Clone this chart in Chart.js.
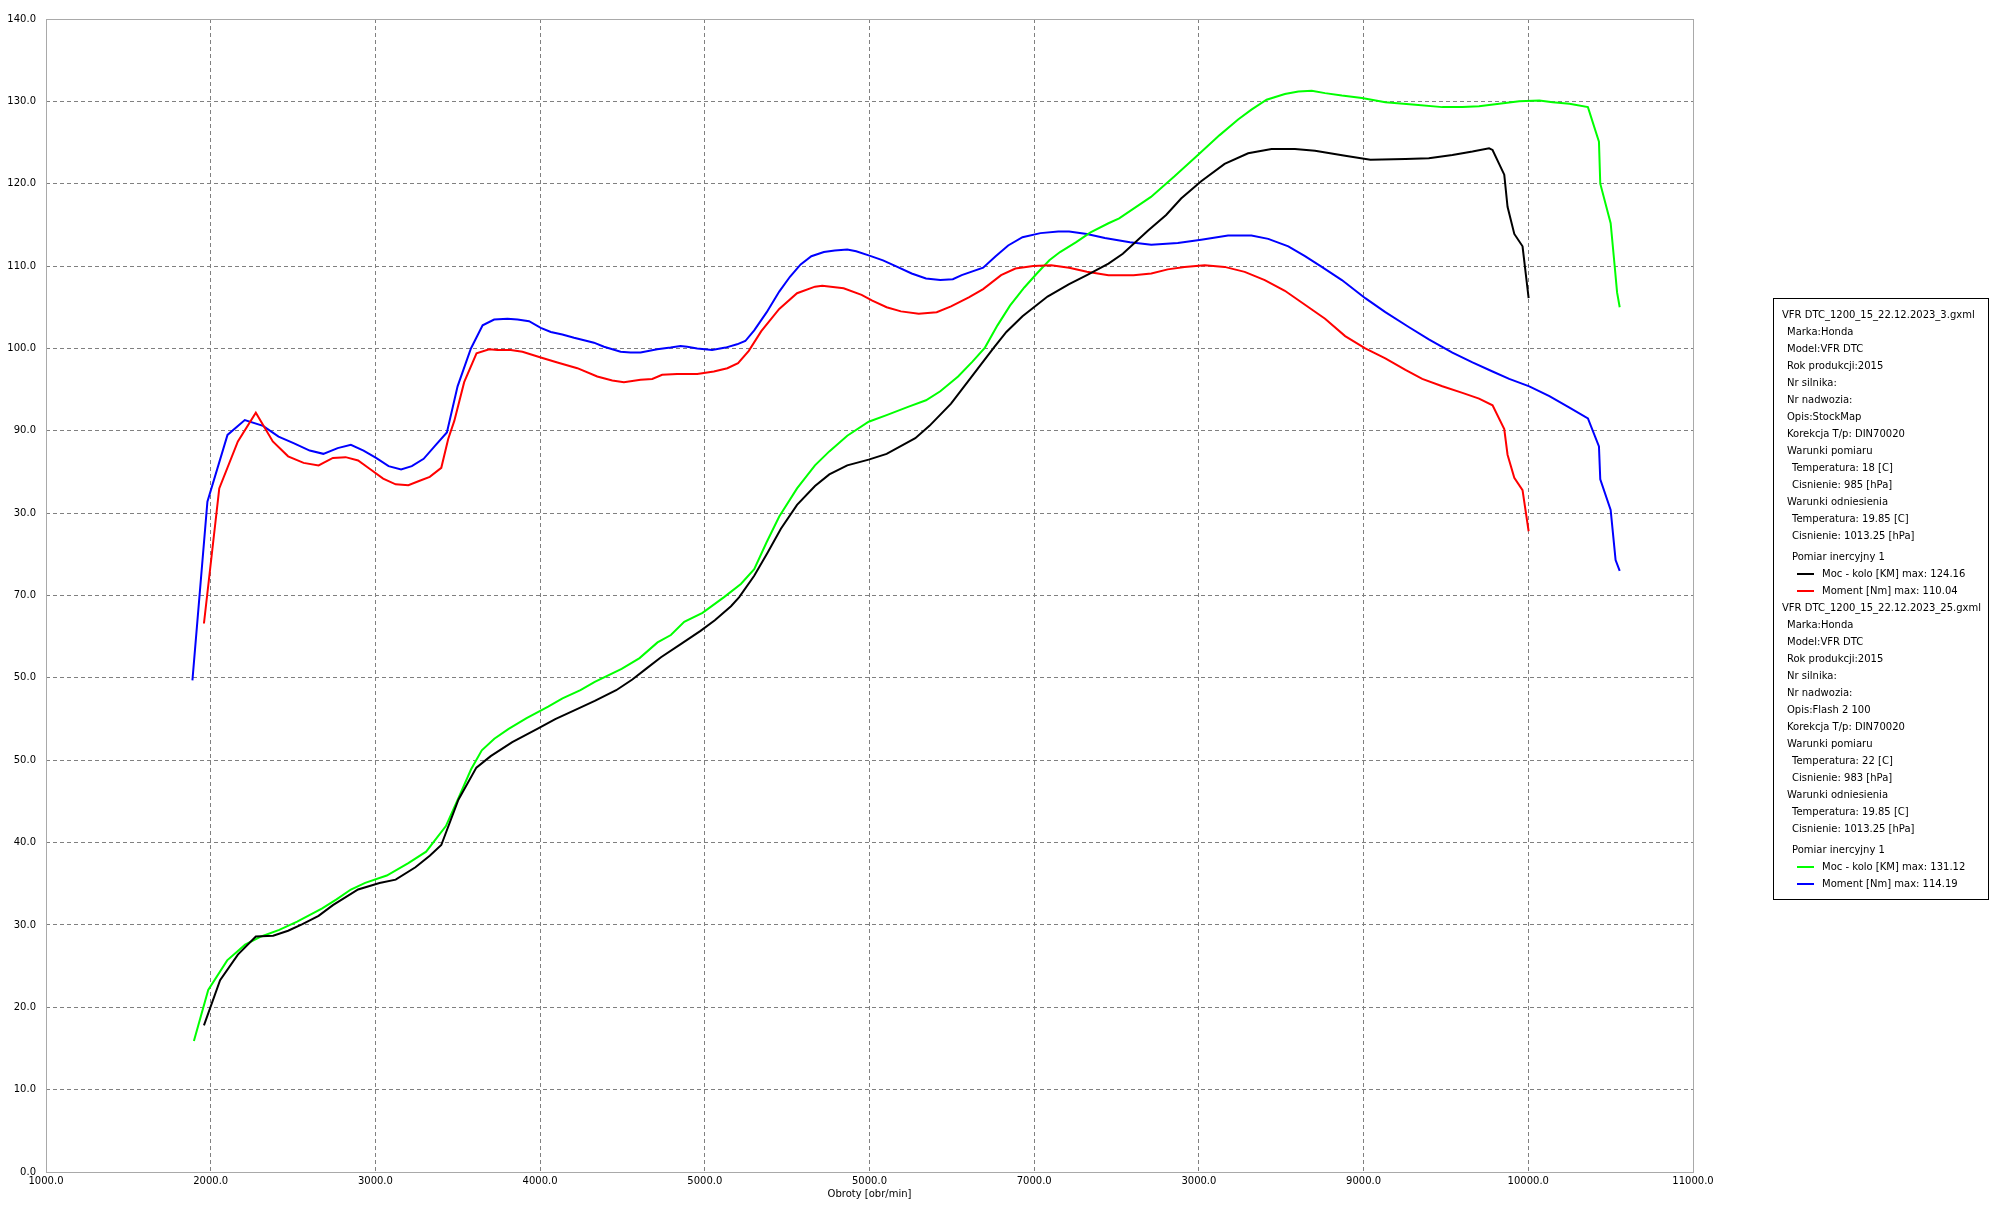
<!DOCTYPE html>
<html>
<head>
<meta charset="utf-8">
<script src="https://cdn.jsdelivr.net/npm/chart.js@4.4.0/dist/chart.umd.min.js"></script>
<style>
html,body{margin:0;padding:0;background:#fff;overflow:hidden}
canvas{display:block}
</style>
</head>
<body>
<canvas id="c" width="1997" height="1212" style="width:1997px;height:1212px"></canvas>
<script>
// ---- Data ----
const blackRpm = [1959,2057,2165,2274,2379,2470,2557,2655,2742,2895,3025,3123,3243,3330,3400,3504,3613,3700,3831,3983,4092,4201,4332,4462,4560,4637,4734,4854,4974,5061,5159,5209,5300,5381,5462,5560,5669,5756,5865,5995,6104,6278,6364,6495,6625,6755,6831,6929,7081,7212,7320,7451,7538,7690,7801,7892,8014,8156,8299,8441,8583,8705,8888,9041,9254,9396,9539,9661,9762,9783,9854,9874,9915,9965,10002];
const blackKM  = [17.8,23.3,26.4,28.6,28.7,29.3,30.1,31.1,32.4,34.3,35.1,35.5,37.0,38.4,39.7,45.2,49.1,50.5,52.2,53.8,55.0,56.0,57.2,58.5,59.8,61.0,62.5,64.1,65.7,67.0,68.7,69.8,72.4,75.2,78.1,81.0,83.3,84.7,85.8,86.5,87.2,89.1,90.6,93.3,96.7,100.1,102.0,103.9,106.3,107.8,108.9,110.3,111.5,114.3,116.2,118.2,120.3,122.4,123.7,124.2,124.2,124.0,123.4,122.9,123.0,123.1,123.5,123.9,124.3,124.1,121.1,117.2,113.9,112.4,106.1];

const redRpm = [1959,2052,2165,2274,2377,2470,2564,2655,2742,2819,2895,2971,3047,3123,3200,3265,3330,3400,3442,3479,3539,3614,3691,3741,3822,3893,4004,4105,4226,4347,4438,4509,4610,4681,4741,4832,4954,5055,5137,5202,5267,5343,5452,5560,5669,5713,5843,5952,6017,6104,6191,6299,6408,6495,6603,6690,6799,6886,6994,7103,7212,7320,7451,7603,7711,7811,7913,8035,8156,8278,8400,8522,8644,8766,8888,9010,9132,9254,9356,9478,9600,9701,9783,9854,9874,9915,9965,10002];
const redNm  = [66.6,83.0,88.7,92.2,88.7,86.9,86.1,85.8,86.7,86.8,86.4,85.3,84.2,83.5,83.4,83.9,84.4,85.5,89.0,91.2,95.9,99.4,99.9,99.8,99.8,99.6,98.9,98.3,97.6,96.6,96.1,95.9,96.2,96.3,96.8,96.9,96.9,97.2,97.6,98.2,99.7,102.1,104.8,106.7,107.5,107.6,107.3,106.5,105.8,105.0,104.5,104.2,104.4,105.1,106.2,107.2,108.9,109.7,110.0,110.1,109.8,109.3,108.9,108.9,109.1,109.6,109.9,110.1,109.9,109.3,108.3,107.0,105.3,103.6,101.5,100.0,98.8,97.4,96.3,95.4,94.6,93.9,93.1,90.2,87.1,84.3,82.8,77.8];

const greenRpm = [1898,1985,2100,2209,2307,2416,2525,2677,2764,2851,2938,3069,3200,3308,3428,3504,3581,3646,3722,3809,3918,4049,4136,4245,4332,4495,4604,4713,4794,4875,4986,5117,5219,5300,5376,5452,5560,5669,5756,5865,5995,6104,6234,6343,6430,6538,6625,6701,6777,6853,6940,7016,7092,7157,7255,7342,7451,7516,7709,7852,7994,8126,8238,8319,8411,8522,8604,8685,8766,8868,8990,9132,9315,9478,9600,9701,9823,9945,10067,10148,10250,10362,10429,10437,10500,10524,10539,10555];
const greenKM  = [15.9,22.1,25.7,27.6,28.6,29.4,30.4,32.0,33.1,34.3,35.1,36.0,37.5,38.9,42.0,45.4,48.9,51.2,52.6,53.8,55.1,56.5,57.5,58.5,59.5,61.1,62.4,64.3,65.2,66.8,67.9,69.8,71.4,73.2,76.5,79.6,83.0,85.8,87.5,89.4,91.1,91.9,92.9,93.7,94.8,96.6,98.4,100.1,102.8,105.2,107.4,109.1,110.7,111.7,112.9,114.1,115.2,115.8,118.4,120.9,123.5,125.9,127.8,129.0,130.2,130.9,131.2,131.3,131.0,130.7,130.4,129.9,129.6,129.3,129.3,129.4,129.7,130.0,130.1,129.9,129.7,129.3,125.1,120.0,115.2,110.1,106.8,105.0];

const blueRpm = [1889,1980,2102,2207,2318,2412,2503,2601,2684,2771,2851,2928,3004,3080,3156,3221,3293,3363,3434,3499,3580,3651,3721,3802,3863,3933,4004,4065,4135,4206,4267,4327,4388,4489,4549,4610,4711,4792,4853,4893,4954,5044,5126,5196,5246,5300,5376,5452,5517,5582,5647,5723,5789,5865,5919,5995,6082,6169,6256,6343,6430,6506,6560,6690,6766,6842,6929,7038,7146,7212,7320,7429,7581,7711,7872,8014,8177,8319,8421,8543,8644,8746,8868,9010,9132,9274,9396,9539,9661,9783,9884,10006,10128,10250,10362,10429,10437,10500,10530,10555];
const blueNm  = [59.7,81.4,89.5,91.3,90.6,89.3,88.5,87.6,87.2,87.9,88.3,87.6,86.7,85.7,85.3,85.7,86.6,88.2,89.8,95.4,100.0,102.8,103.5,103.6,103.5,103.3,102.5,102.0,101.7,101.3,101.0,100.7,100.2,99.6,99.5,99.5,99.9,100.1,100.3,100.2,100.0,99.8,100.1,100.5,100.9,102.2,104.4,106.9,108.7,110.2,111.2,111.7,111.9,112.0,111.8,111.3,110.7,109.9,109.1,108.5,108.3,108.4,108.9,109.8,111.2,112.5,113.5,114.0,114.2,114.2,113.9,113.4,112.9,112.6,112.8,113.2,113.7,113.7,113.3,112.4,111.2,109.9,108.3,106.1,104.4,102.6,101.1,99.5,98.3,97.2,96.3,95.4,94.2,92.8,91.5,88.1,84.1,80.4,74.3,73.0];

// tick labels exactly as printed on the reference
const yTickLabels = ['0.0','10.0','20.0','30.0','40.0','50.0','50.0','70.0','30.0','90.0','100.0','110.0','120.0','130.0','140.0']; // 0..140 step 10
const xTickLabels = ['1000.0','2000.0','3000.0','4000.0','5000.0','5000.0','7000.0','3000.0','9000.0','10000.0','11000.0']; // 1000..11000 step 1000
const xAxisTitle = 'Obroty [obr/min]';

const legendBlock1 = [
  [0,'VFR DTC_1200_15_22.12.2023_3.gxml'],[1,'Marka:Honda'],[1,'Model:VFR DTC'],[1,'Rok produkcji:2015'],
  [1,'Nr silnika:'],[1,'Nr nadwozia:'],[1,'Opis:StockMap'],[1,'Korekcja T/p: DIN70020'],[1,'Warunki pomiaru'],
  [2,'Temperatura: 18 [C]'],[2,'Cisnienie: 985 [hPa]'],[1,'Warunki odniesienia'],[2,'Temperatura: 19.85 [C]'],[2,'Cisnienie: 1013.25 [hPa]']
];
const legendSeries1 = [['#000000','Moc - kolo [KM] max: 124.16'],['#ff0000','Moment [Nm] max: 110.04']];
const legendBlock2 = [
  [0,'VFR DTC_1200_15_22.12.2023_25.gxml'],[1,'Marka:Honda'],[1,'Model:VFR DTC'],[1,'Rok produkcji:2015'],
  [1,'Nr silnika:'],[1,'Nr nadwozia:'],[1,'Opis:Flash 2 100'],[1,'Korekcja T/p: DIN70020'],[1,'Warunki pomiaru'],
  [2,'Temperatura: 22 [C]'],[2,'Cisnienie: 983 [hPa]'],[1,'Warunki odniesienia'],[2,'Temperatura: 19.85 [C]'],[2,'Cisnienie: 1013.25 [hPa]']
];
const legendSeries2 = [['#00ff00','Moc - kolo [KM] max: 131.12'],['#0000ff','Moment [Nm] max: 114.19']];
const legendTitle = 'Pomiar inercyjny 1';

// ---- Rendering ----
const FONT = 'DejaVu Sans';
function pts(xs, ys) { return xs.map((x, i) => ({ x: x, y: ys[i] })); }

const framePlugin = {
  id: 'frame',
  beforeDatasetsDraw(chart) {
    const a = chart.chartArea, c = chart.ctx;
    c.save();
    c.setLineDash([]);
    c.strokeStyle = '#a9a9a9';
    c.lineWidth = 1;
    c.strokeRect(Math.round(a.left) + 0.5, Math.round(a.top) + 0.5, Math.round(a.right - a.left), Math.round(a.bottom - a.top));
    c.restore();
  }
};

const legendPlugin = {
  id: 'infoBox',
  afterDraw(chart) {
    const c = chart.ctx;
    c.save();
    c.setLineDash([]);
    c.strokeStyle = '#000';
    c.lineWidth = 1;
    c.strokeRect(1773.5, 298.5, 215, 601);
    c.fillStyle = '#000';
    c.font = '10px "' + FONT + '"';
    c.textBaseline = 'middle';
    c.textAlign = 'left';
    const indent = [1782, 1787, 1792];
    const drawBlock = (lines, series, y0) => {
      let y = y0;
      lines.forEach(l => { c.fillText(l[1], indent[l[0]], y); y += 17; });
      y += 3.7;
      c.fillText(legendTitle, indent[2], y);
      y += 17;
      series.forEach(s => {
        c.strokeStyle = s[0];
        c.lineWidth = 2;
        c.beginPath(); c.moveTo(1797, Math.round(y)); c.lineTo(1814, Math.round(y)); c.stroke();
        c.fillText(s[1], 1822, y);
        y += 17;
      });
      return y;
    };
    const yNext = drawBlock(legendBlock1, legendSeries1, 315.7);
    drawBlock(legendBlock2, legendSeries2, yNext + 0.3);
    c.restore();
  }
};

const mk = (label, xs, ys, color) => ({
  label: label, data: pts(xs, ys), borderColor: color, backgroundColor: color,
  borderWidth: 2, pointRadius: 0, tension: 0, fill: false
});

new Chart(document.getElementById('c'), {
  type: 'line',
  data: {
    datasets: [
      mk('Moc - kolo [KM] (StockMap)', blackRpm, blackKM, '#000000'),
      mk('Moment [Nm] (StockMap)', redRpm, redNm, '#ff0000'),
      mk('Moc - kolo [KM] (Flash 2 100)', greenRpm, greenKM, '#00ff00'),
      mk('Moment [Nm] (Flash 2 100)', blueRpm, blueNm, '#0000ff')
    ]
  },
  options: {
    responsive: false,
    animation: false,
    devicePixelRatio: 1,
    layout: { padding: { left: 0, top: 19, right: 304, bottom: 0 } },
    plugins: { legend: { display: false }, tooltip: { enabled: false } },
    scales: {
      x: {
        type: 'linear', min: 1000, max: 11000,
        ticks: { stepSize: 1000, autoSkip: false, maxRotation: 0, padding: 3, color: '#000',
          font: { family: FONT, size: 10 },
          callback: v => { const i = Math.round((v - 1000) / 1000); return xTickLabels[i] !== undefined ? xTickLabels[i] : Number(v).toFixed(1); } },
        grid: { color: '#808080', lineWidth: 1, drawTicks: false },
        border: { display: false, dash: [4, 3] },
        title: { display: true, text: xAxisTitle, color: '#000', font: { family: FONT, size: 10 }, padding: { top: 0, bottom: 12 } },
        afterFit: s => { s.height = 40; }
      },
      y: {
        type: 'linear', min: 0, max: 140,
        ticks: { stepSize: 10, autoSkip: false, padding: 10, color: '#000',
          font: { family: FONT, size: 10 }, callback: v => yTickLabels[Math.round(v / 10)] },
        grid: { color: '#808080', lineWidth: 1, drawTicks: false },
        border: { display: false, dash: [4, 3] },
        afterFit: s => { s.width = 46; }
      }
    }
  },
  plugins: [framePlugin, legendPlugin]
});
</script>
</body>
</html>
